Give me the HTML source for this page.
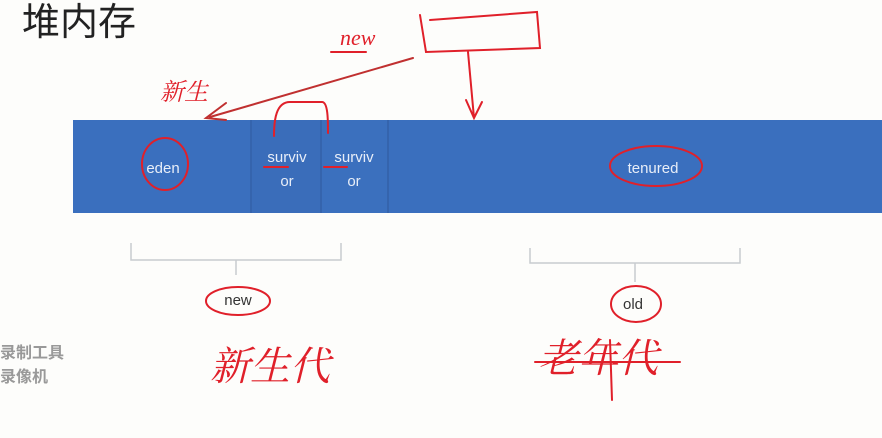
<!DOCTYPE html>
<html><head><meta charset="utf-8"><style>
html,body{margin:0;padding:0;background:#fdfdfb;}
svg{display:block}
</style></head><body>
<svg width="882" height="438" viewBox="0 0 882 438" xmlns="http://www.w3.org/2000/svg">
<rect width="882" height="438" fill="#fdfdfb"/>
<text x="22" y="35" font-family="'Liberation Sans','Noto Sans CJK SC',sans-serif" font-size="38" fill="#222">堆内存</text>
<rect x="73" y="120" width="809" height="93" fill="#3a6fbe"/>
<rect x="251" y="120" width="70" height="93" fill="#3a6dba"/>
<rect x="321" y="120" width="67" height="93" fill="#3b70be"/>
<line x1="251" y1="120" x2="251" y2="213" stroke="#3564ad" stroke-width="2"/>
<line x1="321" y1="120" x2="321" y2="213" stroke="#3564ad" stroke-width="2"/>
<line x1="388" y1="120" x2="388" y2="213" stroke="#3564ad" stroke-width="2"/>
<g font-family="'Liberation Sans',sans-serif" font-size="15" fill="#e8eef8" text-anchor="middle">
<text x="163" y="173">eden</text>
<text x="287" y="162">surviv</text><text x="287" y="186">or</text>
<text x="354" y="162">surviv</text><text x="354" y="186">or</text>
<text x="653" y="173">tenured</text>
</g>
<g stroke="#c8ccd0" stroke-width="1.5" fill="none">
<path d="M131 243 V260 H341 V243 M236 260 V275"/>
<path d="M530 248 V263 H740 V248 M635 263 V282"/>
</g>
<g font-family="'Liberation Sans',sans-serif" font-size="15" fill="#333" text-anchor="middle">
<text x="238" y="305">new</text>
<text x="633" y="309">old</text>
</g>
<g stroke="#e0202a" stroke-width="2" fill="none" stroke-linecap="round">
<ellipse cx="165" cy="164" rx="23" ry="26"/>
<ellipse cx="656" cy="166" rx="46" ry="20"/>
<ellipse cx="238" cy="301" rx="32" ry="14"/>
<ellipse cx="636" cy="304" rx="25" ry="18"/>
<path d="M264 167 H288 M324 167 H347"/>
<path d="M274 136 C274 120 276 102 290 102 L322 102 C328 102 328 120 328 133"/>
<path d="M420 15 L426 52 L540 48 L537 12 L430 20"/>
<path d="M468 52 L474 118 M466 100 L474 118 L482 102"/>
<path d="M413 58 L210 117 M226 103 L206 118 L226 120" stroke="#c03030"/>
<path d="M331 52 L366 52"/>
<path d="M535 362 L680 362 M610 340 L612 400"/>
</g>
<g font-family="'Liberation Serif','Noto Serif CJK SC',serif" fill="#e0202a" font-style="italic">
<text x="340" y="45" font-size="22">new</text>
<text x="160" y="100" font-size="24">新生</text>
<text x="210" y="380" font-size="40">新生代</text>
<text x="538" y="372" font-size="40">老年代</text>
</g>
<g font-family="'Noto Sans CJK SC',sans-serif" font-size="16" font-weight="bold" fill="#999">
<text x="0" y="358">录制工具</text>
<text x="0" y="382">录像机</text>
</g>
</svg>
</body></html>
